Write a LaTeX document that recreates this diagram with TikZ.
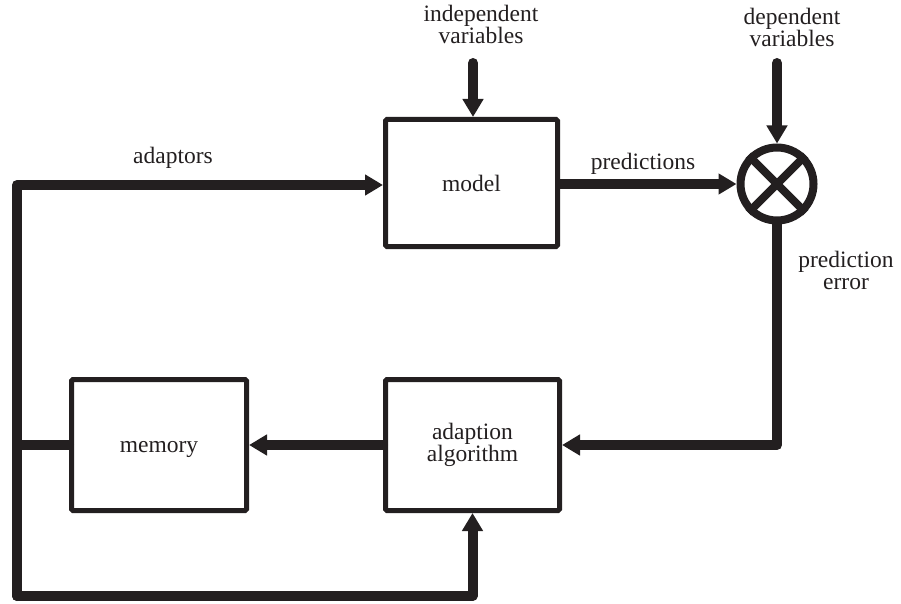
\documentclass[tikz,border=0pt]{standalone}
\usepackage{fontspec}
\setmainfont{Liberation Serif}
\usetikzlibrary{arrows.meta}
\definecolor{ink}{RGB}{35,31,32}
\begin{document}
\begin{tikzpicture}[x=1pt,y=-1pt,
  font=\fontsize{23.5}{22}\selectfont,
  every node/.style={text=ink},
  block/.style={draw=ink, line width=5pt, rounded corners=1.5pt, inner sep=0pt,
    align=center},
  flow/.style={draw=ink, line width=10pt, line cap=round, line join=round},
  into/.style={flow, -{Triangle[length=18pt,width=20pt]}},
  caption/.style={align=center, anchor=base, inner sep=0pt}]
  \useasboundingbox (0,0) rectangle (901,604);

  % blocks
  \node[block, minimum width=172pt, minimum height=127pt] (model) at (471.5,183) {model};
  \node[block, minimum width=174pt, minimum height=131pt] (adapt) at (472.5,445) {adaption\\algorithm};
  \node[block, minimum width=175pt, minimum height=131pt, text height=14pt, text depth=0pt] (mem) at (159,445) {memory};

  % comparator
  \node[draw=ink, line width=8pt, circle, minimum size=73pt, inner sep=0pt] (cmp) at (777,184) {};
  \draw[ink, line width=8pt] (cmp.north west) -- (cmp.south east)
                              (cmp.north east) -- (cmp.south west);

  % loop corners and free line ends
  \coordinate (tl) at (17,185);
  \coordinate (bl) at (17,596);
  \coordinate (iv) at (473,63);
  \coordinate (dv) at (777,63);

  % connectors
  \draw[into] (iv) -- (iv |- model.north);
  \draw[into] (dv) -- (cmp.north);
  \draw[into] (model.east |- cmp.west) -- (cmp.west);
  \draw[into] (cmp.south) -- (cmp.south |- adapt.east) -- (adapt.east);
  \draw[into] (adapt.west) -- (mem.east);
  \draw[flow] (mem.west) -- (mem.west -| tl);
  \draw[into] (bl) -- (tl) -- (tl -| model.west);
  \draw[into] (bl) -- (bl -| adapt.south) -- (adapt.south);

  % labels (base anchor sits on the last line)
  \node[caption] (lind) at (481,43.5) {independent\\variables};
  \node[caption] (ldep) at (792,47) {dependent\\variables};
  \node[caption] (ladp) at (173,164) {adaptors};
  \node[caption] (lpre) at (643,170) {predictions};
  \node[caption] (lerr) at (846,289) {prediction\\error};
\end{tikzpicture}
\end{document}
